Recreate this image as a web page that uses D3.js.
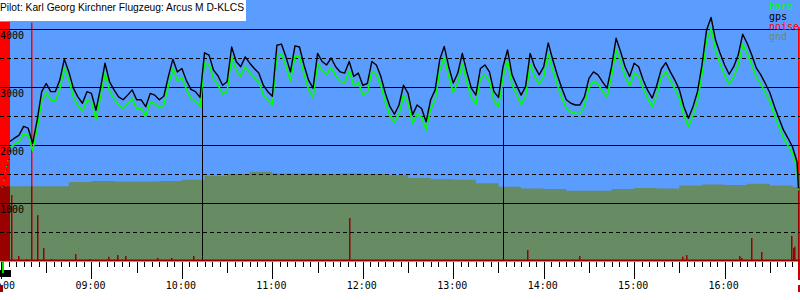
<!DOCTYPE html>
<html>
<head>
<meta charset="utf-8">
<script src="https://cdn.jsdelivr.net/npm/d3@7/dist/d3.min.js"></script>
<style>
  body { margin: 0; background: #fff; }
  svg { display: block; }
</style>
</head>
<body>
<div class="canvas"></div>
<script>
// title + legend
const title = 'Pilot: Karl Georg Kirchner Flugzeug: Arcus M D-KLCS';
const legendNames = ['baro', 'gps', 'noise', 'gnd'];
const legendColors = ['#00ff00', '#000000', '#ff0000', '#6b8c62'];

// flight trace, minutes after 08:00, sampled every 3 min from 08:06
const sampleStartMin = 6;
const sampleStepMin = 3;
const gpsAlt = [
  2060,2120,2170,2320,2290,2030,2430,2920,3060,2920, 2920,3120,3480,3260,2980,2830,2720,2920,2890,2600,
  2980,3410,3090,2950,2830,2780,2860,2950,2780,2780, 2660,2890,2860,2780,
  2840,3180,3480,3260,3320,3110,2960,2920,2820,3590, 3550,3290,3190,3030,3090,3690,3440,3350,3520,3410,
  3320,3240,3030,2920,2840,3720,3740,3520,3260,3710, 3690,3380,3120,2980,3580,
  3440,3380,3500,3350,3260,3240,3440,3180,3240,3030, 3060,3440,3380,3180,2890,2660,2530,2690,3030,2890,
  2520,2690,2630,2400,2780,2950,3470,3700,3350,3070, 3240,3580,3260,2980,2860,
  3320,3380,3260,2920,2820,3350,3640,3210,3030,2860, 3010,3580,3350,3210,3350,3760,3470,3210,2980,2780,
  2720,2690,2690,2830,3150,3260,3210,3090,2980,3350, 3840,3610,3350,3180,3410,3350,
  3120,2940,2810,3030,3310,3420,3260,3120,2950,2660, 2460,2660,2920,3380,3980,4200,3810,3580,3380,3220,
  3350,3550,3910,3750,3550,3330,3210,3060,2900,2670, 2460,2260,2120,1970,1710
];
const baroAlt = [
  1960,2010,2060,2190,2170,1900,2280,2760,2900,2780, 2760,2960,3330,3120,2830,2680,2580,2770,2740,2440,
  2820,3240,2930,2800,2690,2630,2710,2800,2620,2640, 2500,2740,2710,2640,
  2690,3010,3320,3110,3160,2960,2800,2760,2660,3420, 3390,3140,3030,2880,2920,3520,3280,3190,3350,3250,
  3160,3090,2870,2770,2690,3540,3570,3360,3100,3530, 3520,3220,2960,2820,3400,
  3280,3220,3340,3190,3100,3080,3280,3020,3080,2870, 2900,3270,3220,3020,2740,2500,2390,2530,2860,2730,
  2370,2530,2480,2260,2620,2780,3290,3510,3180,2910, 3070,3400,3090,2820,2700,
  3150,3210,3100,2760,2660,3170,3450,3040,2870,2700, 2840,3400,3180,3050,3180,3570,3290,3040,2820,2630,
  2570,2550,2540,2680,2990,3100,3050,2930,2830,3180, 3650,3430,3180,3020,3240,3180,
  2970,2800,2660,2870,3160,3270,3110,2970,2800,2510, 2320,2510,2760,3210,3800,4010,3630,3400,3200,3050,
  3180,3380,3730,3580,3380,3170,3050,2900,2750,2520, 2320,2130,1990,1860,1600
];
const touchdownMin = 529;
const touchdownGps = 1250;
const touchdownBaro = 1220;

// launch under engine (dotted part inside the red block)
const launchMin = [0.5, 1.6, 2.6, 3.4, 4.2, 5.2];
const launchGps = [1300, 1440, 1580, 1660, 1760, 1900];
const launchBaro = [1280, 1400, 1560, 1640, 1740, 1860];

// ground elevation every 15 min from 08:00
const groundStepMin = 15;
const groundAlt = [
  1290,1290,1290,1360,1380,1370,1370,1380,1400,1470,1500,1540,1510,1510,1500,1510,1500,1480,
  1430,1410,1400,1340,1280,1250,1240,1210,1210,1240,1260,1250,1300,1320,1310,1330,1300,1280,1280
];

// engine noise, minutes after 08:00
const noiseFrom  = [-0.7, 6.8, 11.3, 17, 19.9, 24.1, 28.5, 33.8, 49.3, 58.4, 71.4, 77.1, 82.5, 104.1, 113.4, 127.6,
                    231.5, 349, 384, 452, 454.8, 490.2, 491.5, 498, 504.6, 524.5, 525.6, 526.5, 529];
const noiseLevel = [1000, 276, 21, 8, 997, 192, 54, 8, 29, 8, 18, 25, 21, 13, 13, 21,
                    180, 46, 21, 18, 25, 21, 13, 96, 38, 105, 54, 60, 979];

// task markers (drawn from 3000 m down)
const markerMin = [133.5, 333.2];
const markerTop = 3000;

const yGridValues = [500, 1000, 1500, 2000, 2500, 3000, 3500, 4000];
const yLabelValues = [1000, 2000, 3000, 4000];

// ---------------------------------------------------------------
const width = 800, height = 300;
const axisY = 261;
const day0 = new Date(2021, 5, 20, 8, 0, 0);
const at = m => new Date(day0.getTime() + m * 60000);

const svg = d3.select('.canvas').append('svg')
    .attr('width', width)
    .attr('height', height);

const x = d3.scaleTime().domain([at(0), at(530)]).range([1, 800]);
const y = d3.scaleLinear().domain([0, 4500]).range([axisY, 0]);
const yNoise = d3.scaleLinear().domain([0, 1000]).range([axisY, 22]);

const mono = '"DejaVu Sans Mono", monospace';

// background
svg.append('rect').attr('x', 0).attr('y', 0).attr('width', width).attr('height', axisY)
    .attr('fill', '#5b9cff');

// ground polygon
const groundData = groundAlt.map((v, i) => ({t: at(i * groundStepMin), v}));
const groundArea = d3.area()
    .x(d => x(d.t))
    .y0(axisY)
    .y1(d => y(d.v))
    .curve(d3.curveStepAfter);

svg.append('clipPath').attr('id', 'gclip')
  .append('path').attr('d', groundArea([{t: at(-2), v: groundAlt[0]}, ...groundData]));

const noiseData = noiseFrom.map((m, i) => ({t: at(m), v: noiseLevel[i]}));
const noiseRect = sel => sel
    .attr('x', d => Math.floor(x(d.t)))
    .attr('width', (d, i) => i === 0 ? 11 : 1.5)
    .attr('y', d => yNoise(d.v))
    .attr('height', d => axisY - yNoise(d.v));

// red noise on sky
svg.append('g').selectAll('rect').data(noiseData).join('rect')
    .call(noiseRect).attr('fill', '#ff0000');

svg.append('path')
    .attr('d', groundArea([{t: at(-2), v: groundAlt[0]}, ...groundData]))
    .attr('fill', '#678b63');

// dark red noise where it sits in the ground
svg.append('g').attr('clip-path', 'url(#gclip)')
  .selectAll('rect').data(noiseData).join('rect')
    .call(noiseRect).attr('fill', '#990000');

// grid
svg.append('g').selectAll('line').data(yGridValues).join('line')
    .attr('x1', 0).attr('x2', width)
    .attr('y1', d => Math.round(y(d)) + 0.5)
    .attr('y2', d => Math.round(y(d)) + 0.5)
    .attr('stroke', '#000')
    .attr('stroke-width', 1)
    .attr('stroke-dasharray', d => d % 1000 === 0 ? null : '4,3')
    .attr('shape-rendering', 'crispEdges');

// markers
svg.append('g').selectAll('line').data(markerMin).join('line')
    .attr('x1', d => Math.round(x(at(d))) + 0.5)
    .attr('x2', d => Math.round(x(at(d))) + 0.5)
    .attr('y1', y(markerTop))
    .attr('y2', axisY)
    .attr('stroke', '#000')
    .attr('shape-rendering', 'crispEdges');

// traces
const series = vals => vals.map((v, i) => ({t: at(sampleStartMin + i * sampleStepMin), v}));
const gpsData = [...series(gpsAlt), {t: at(touchdownMin), v: touchdownGps}];
const baroData = [...series(baroAlt), {t: at(touchdownMin), v: touchdownBaro}];

const line = d3.line().x(d => x(d.t)).y(d => y(d.v));

svg.append('path').attr('d', line(baroData))
    .attr('fill', 'none').attr('stroke', '#00ff00').attr('stroke-width', 1.6)
    .attr('stroke-linejoin', 'round');
svg.append('path').attr('d', line(gpsData))
    .attr('fill', 'none').attr('stroke', '#000').attr('stroke-width', 1.4)
    .attr('stroke-linejoin', 'round');

// launch dots
svg.append('g').selectAll('rect').data(launchMin).join('rect')
    .attr('x', d => x(at(d))).attr('y', (d, i) => y(launchBaro[i]))
    .attr('width', 1).attr('height', 1).attr('fill', '#00ff00');
svg.append('g').selectAll('rect').data(launchMin).join('rect')
    .attr('x', d => x(at(d)) + 1).attr('y', (d, i) => y(launchGps[i]))
    .attr('width', 1).attr('height', 1).attr('fill', '#000');

// y labels
svg.append('g').selectAll('text').data(yLabelValues).join('text')
    .attr('x', 0)
    .attr('y', d => Math.round(y(d)) + 10)
    .attr('font-family', mono)
    .attr('font-size', 10)
    .attr('fill', '#000')
    .text(d => d);

// title box
svg.append('rect').attr('x', 0).attr('y', 0).attr('width', 246).attr('height', 21).attr('fill', '#fff');
svg.append('text').attr('x', 0).attr('y', 11)
    .attr('font-family', '"Liberation Sans", Arial, sans-serif')
    .attr('font-size', 10.6)
    .attr('textLength', 244)
    .attr('lengthAdjust', 'spacingAndGlyphs')
    .attr('fill', '#000')
    .text(title);

// legend
svg.append('g').selectAll('text').data(legendNames).join('text')
    .attr('x', 769)
    .attr('y', (d, i) => 10 + i * 10)
    .attr('font-family', mono)
    .attr('font-size', 10)
    .attr('fill', (d, i) => legendColors[i])
    .text(d => d);

// time axis
svg.append('rect').attr('x', 0).attr('y', axisY - 1.5).attr('width', width).attr('height', 2)
    .attr('fill', '#990000');

const ticks = x.ticks(d3.timeMinute.every(5));
svg.append('g').selectAll('line').data(ticks).join('line')
    .attr('x1', d => Math.round(x(d)) + 0.5)
    .attr('x2', d => Math.round(x(d)) + 0.5)
    .attr('y1', axisY + 1)
    .attr('y2', d => d.getMinutes() === 0 ? 279 : d.getMinutes() === 30 ? 273 : 267)
    .attr('stroke', '#000')
    .attr('shape-rendering', 'crispEdges');

const fmt = d3.timeFormat('%H:%M');
svg.append('g').selectAll('text').data(x.ticks(d3.timeHour.every(1))).join('text')
    .attr('x', d => x(d) - 1)
    .attr('y', 289)
    .attr('text-anchor', 'middle')
    .attr('font-family', mono)
    .attr('font-size', 10)
    .attr('fill', '#000')
    .text(d => fmt(d));

// engine on/off marks under the axis
svg.append('rect').attr('x', 0).attr('y', 270).attr('width', 11).attr('height', 7).attr('fill', '#000');
svg.append('rect').attr('x', 2).attr('y', 261).attr('width', 2).attr('height', 12).attr('fill', '#00dd00');
svg.append('rect').attr('x', 0).attr('y', 285).attr('width', 3).attr('height', 7).attr('fill', '#990000');
svg.append('rect').attr('x', 798).attr('y', 261).attr('width', 2).attr('height', 19).attr('fill', '#cc0000');
svg.append('rect').attr('x', 798).attr('y', 285).attr('width', 2).attr('height', 7).attr('fill', '#cc0000');
</script>
</body>
</html>
